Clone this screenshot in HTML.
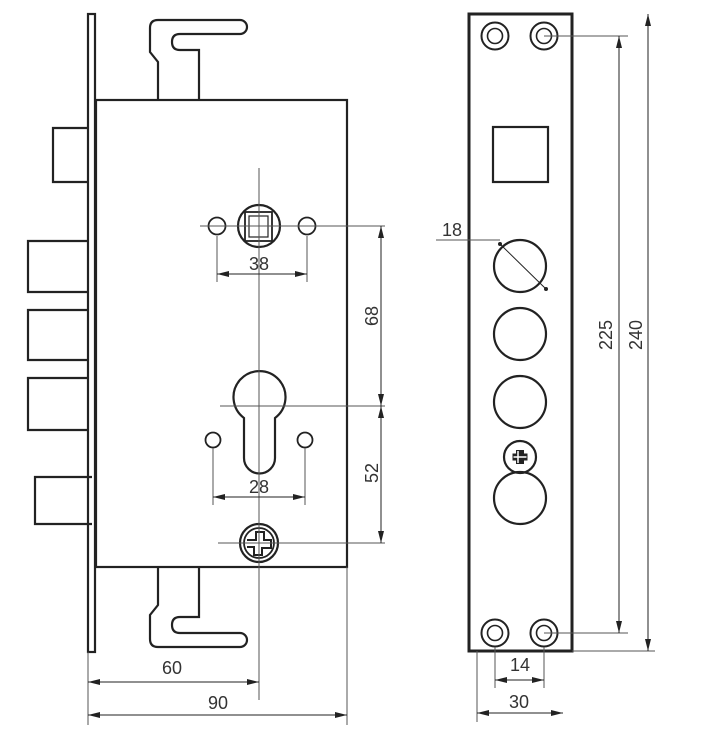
<!DOCTYPE html>
<html><head><meta charset="utf-8"><style>
html,body{margin:0;padding:0;background:#fff;}
svg{display:block}
text{font-family:"Liberation Sans",sans-serif;font-size:18px;fill:#333;}
</style></head><body>
<svg width="706" height="731" viewBox="0 0 706 731" xmlns="http://www.w3.org/2000/svg">
<defs>
<marker id="a" viewBox="0 0 12 6" refX="12" refY="3" markerWidth="12" markerHeight="6" orient="auto-start-reverse" markerUnits="userSpaceOnUse"><path d="M0,0 L12,3 L0,6 z" fill="#222"/></marker>
</defs>
<g fill="none" stroke="#222" stroke-width="2.2">
<rect x="88" y="14" width="7" height="638"/>
<rect x="96" y="100" width="251" height="467"/>
<path d="M158,100 L158,62 L150,52 L150,28 Q150,20 158,20 L240,20 A7,7 0 0 1 240,34 L180,34 Q172,34 172,42 Q172,50 180,50 L199,50 L199,100"/>
<path d="M158,567 L158,605 L150,615 L150,639 Q150,647 158,647 L240,647 A7,7 0 0 0 240,633 L180,633 Q172,633 172,625 Q172,617 180,617 L199,617 L199,567"/>
<path d="M88,128 H53 V182 H88"/>
<path d="M88,241 H28 V292 H88"/>
<path d="M88,310 H28 V360 H88"/>
<path d="M88,378 H28 V430 H88"/>
<path d="M92,477 H35 V524 H92"/>
<circle cx="259" cy="226" r="21"/>
<rect x="245" y="212" width="27" height="29" stroke-width="1.8"/>
<rect x="249" y="216" width="19" height="21" stroke-width="1.2"/>
<circle cx="217" cy="226" r="8.5" stroke-width="1.8"/>
<circle cx="307" cy="226" r="8.5" stroke-width="1.8"/>
<path d="M244,418 A26,26 0 1 1 275,418 L275,458 A15.5,15.5 0 0 1 244,458 Z"/>
<circle cx="213" cy="440" r="7.5" stroke-width="1.8"/>
<circle cx="305" cy="440" r="7.5" stroke-width="1.8"/>
<circle cx="259" cy="543" r="19"/>
<circle cx="259" cy="543" r="15" stroke-width="1.8"/>
<path d="M247,540 L256,540 L256,532 L264,532 L264,540 L271,540 L271,548 L262,548 L262,555 L254,555 L254,547 L247,547" stroke-width="2"/>
<rect x="469" y="14" width="103" height="637" stroke-width="3"/>
<rect x="493" y="127" width="55" height="55"/>
<circle cx="520" cy="266" r="26"/>
<circle cx="520" cy="334" r="26"/>
<circle cx="520" cy="402" r="26"/>
<circle cx="520" cy="498" r="26"/>
<circle cx="520" cy="457" r="16"/>
<path d="M516,450 h8 v3.5 h3.5 v7 h-3.5 v3.5 h-8 v-3.5 h-3.5 v-7 h3.5 z" fill="#222" stroke="none"/>
<path d="M518,451 v12 M513.5,457 h13" stroke="#fff" stroke-width="1.5"/>
<g stroke-width="2">
<circle cx="495" cy="36" r="13.5"/><circle cx="495" cy="36" r="7.5" stroke-width="1.6"/>
<circle cx="544" cy="36" r="13.5"/><circle cx="544" cy="36" r="7.5" stroke-width="1.6"/>
<circle cx="495" cy="633" r="13.5"/><circle cx="495" cy="633" r="7.5" stroke-width="1.6"/>
<circle cx="544" cy="633" r="13.5"/><circle cx="544" cy="633" r="7.5" stroke-width="1.6"/>
</g>
</g>
<g fill="none" stroke="#555" stroke-width="1">
<path d="M259,168 V700"/>
<path d="M200,226 H385"/>
<path d="M220,406 H385"/>
<path d="M218,543 H385"/>
<path d="M217,236 V282 M307,236 V282"/>
<path d="M213,448 V505 M305,448 V505"/>
<path d="M88,652 V725 M347,567 V725"/>
<path d="M436,240 H500"/>
<path d="M544,36 H628 M544,633 H628 M572,651 H655"/>
<path d="M495,647 V688 M544,647 V688 M477,651 V722"/>
</g>
<g stroke="#222" stroke-width="1" fill="none">
<line x1="217" y1="274" x2="307" y2="274" marker-start="url(#a)" marker-end="url(#a)"/>
<line x1="213" y1="497" x2="305" y2="497" marker-start="url(#a)" marker-end="url(#a)"/>
<line x1="88" y1="682" x2="259" y2="682" marker-start="url(#a)" marker-end="url(#a)"/>
<line x1="88" y1="715" x2="347" y2="715" marker-start="url(#a)" marker-end="url(#a)"/>
<line x1="381" y1="226" x2="381" y2="406" marker-start="url(#a)" marker-end="url(#a)"/>
<line x1="381" y1="406" x2="381" y2="543" marker-start="url(#a)" marker-end="url(#a)"/>
<line x1="619" y1="36" x2="619" y2="633" marker-start="url(#a)" marker-end="url(#a)"/>
<line x1="648" y1="14" x2="648" y2="651" marker-start="url(#a)" marker-end="url(#a)"/>
<line x1="495" y1="680" x2="544" y2="680" marker-start="url(#a)" marker-end="url(#a)"/>
<line x1="477" y1="713" x2="563" y2="713" marker-start="url(#a)" marker-end="url(#a)"/>
<line x1="499" y1="243" x2="547" y2="290" stroke-width="1"/>
</g>
<circle cx="500" cy="244" r="2" fill="#222"/><circle cx="546" cy="289" r="2" fill="#222"/>
<text x="259" y="270" text-anchor="middle">38</text>
<text x="259" y="493" text-anchor="middle">28</text>
<text x="172" y="674" text-anchor="middle">60</text>
<text x="218" y="709" text-anchor="middle">90</text>
<text x="452" y="236" text-anchor="middle">18</text>
<text x="520" y="671" text-anchor="middle">14</text>
<text x="519" y="708" text-anchor="middle">30</text>
<text transform="translate(378,316) rotate(-90)" text-anchor="middle">68</text>
<text transform="translate(378,473) rotate(-90)" text-anchor="middle">52</text>
<text transform="translate(612,335) rotate(-90)" text-anchor="middle">225</text>
<text transform="translate(642,335) rotate(-90)" text-anchor="middle">240</text>
</svg>
</body></html>
